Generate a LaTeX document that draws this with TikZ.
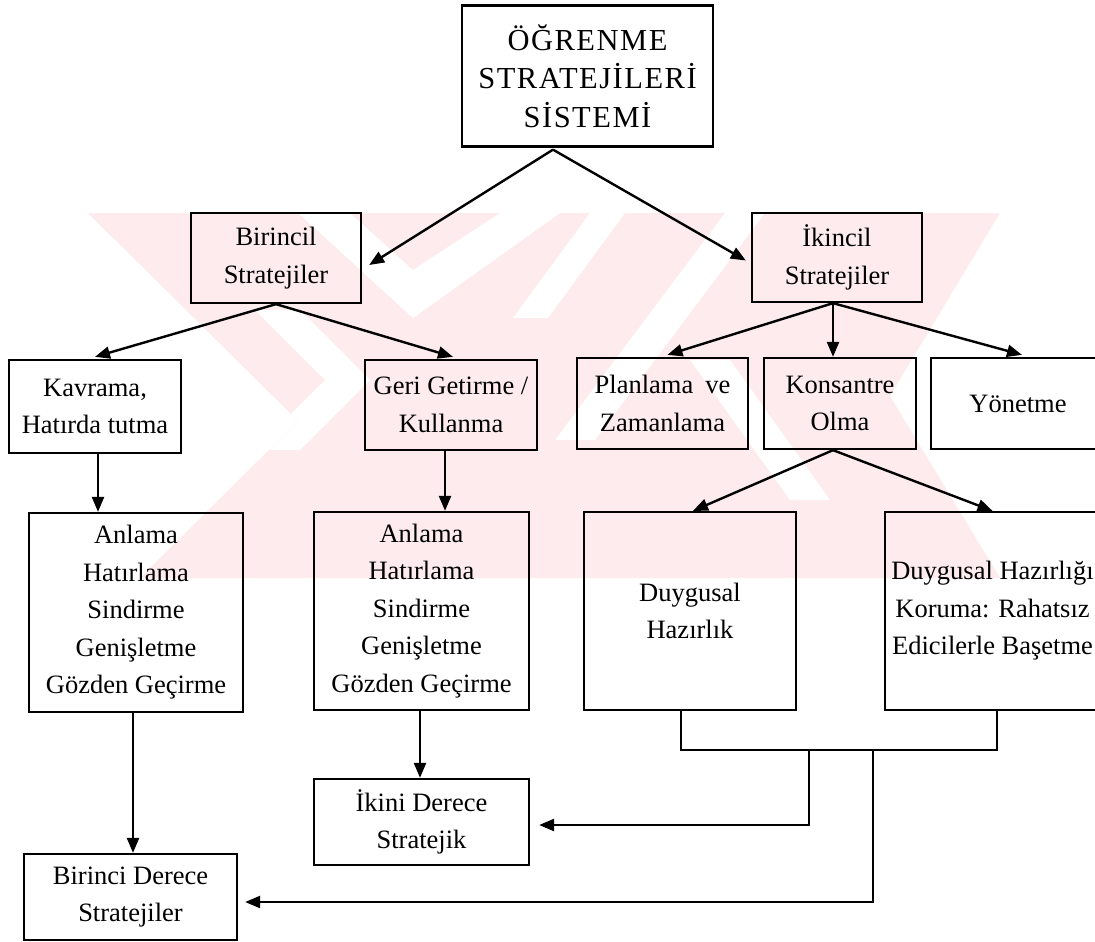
\documentclass[tikz,border=0pt]{standalone}
\usepackage{fontspec}
\setmainfont{Liberation Serif}
\newfontfamily\titlefont[LetterSpace=5]{Liberation Serif}
\usetikzlibrary{arrows.meta,calc}
\definecolor{wmpink}{RGB}{253,235,238}
\tikzset{
  box/.style={draw, line width=2.3pt, inner sep=0pt, align=center,
              font=\fontsize{26.5}{37.5}\selectfont},
  arr/.style={line width=2.4pt, -{Triangle[length=15pt,width=12pt]}},
  link/.style={line width=2pt},
}
\begin{document}
\begin{tikzpicture}[x=1pt,y=-1pt]
\useasboundingbox (0,0) rectangle (1095,942);

% faint background emblem
\begin{scope}
  \clip (88,213) -- (1000,213) -- (890,396) -- (1000,578) -- (140,578) -- (298,421) -- cycle;
  \fill[wmpink] (0,200) rectangle (1095,600);
  \fill[white] (298,213) -- (350,213) -- (413,270) -- (500,213) -- (560,213) -- (413,318) -- cycle;
  \fill[white] (590,213) -- (625,213) -- (548,318) -- (513,318) -- cycle;
  \fill[white] (725,213) -- (765,213) -- (595,440) -- (555,440) -- cycle;
  \fill[white] (255,310) -- (300,310) -- (370,380) -- (300,450) -- (255,450) -- (325,380) -- cycle;
  \fill[white] (690,360) -- (730,360) -- (830,500) -- (790,500) -- cycle;
\end{scope}

% boxes
\node[box, minimum width=251pt, minimum height=141pt,
      font=\titlefont\fontsize{30.5}{38.5}\selectfont] (top) at (587.5,76)
      {ÖĞRENME\\STRATEJİLERİ\\SİSTEMİ};
\node[box, minimum width=170pt, minimum height=90pt] (bir) at (276,258) {Birincil\\Stratejiler};
\node[box, minimum width=170pt, minimum height=89pt] (iki) at (837,257.5) {İkincil\\Stratejiler};
\node[box, minimum width=172pt, minimum height=93pt] (kav) at (95,406.5) {Kavrama,\\Hatırda tutma};
\node[box, minimum width=172pt, minimum height=90pt] (geri) at (451,405) {Geri Getirme /\\Kullanma};
\node[box, minimum width=171pt, minimum height=91pt] (plan) at (662.5,403.5) {Planlama\hspace{0.45em}ve\\Zamanlama};
\node[box, minimum width=152pt, minimum height=91pt] (kon) at (840,403.5) {Konsantre\\Olma};
\node[box, minimum width=174pt, minimum height=91pt] (yon) at (1018,403.5) {Yönetme};
\node[box, minimum width=214pt, minimum height=199pt] (an1) at (136,612.5)
      {Anlama\\Hatırlama\\Sindirme\\Genişletme\\Gözden Geçirme};
\node[box, minimum width=215pt, minimum height=198pt] (an2) at (421.5,611)
      {Anlama\\Hatırlama\\Sindirme\\Genişletme\\Gözden Geçirme};
\node[box, minimum width=212pt, minimum height=198pt] (duy) at (690,611) {Duygusal\\Hazırlık};
\node[box, minimum width=215pt, minimum height=198pt] (duyh) at (992.5,611)
      {Duygusal Hazırlığı\\Koruma: Rahatsız\\Edicilerle Başetme};
\node[box, minimum width=215pt, minimum height=86pt] (ikd) at (421.5,822) {İkini Derece\\Stratejik};
\node[box, minimum width=213pt, minimum height=86pt] (bird) at (130.5,897) {Birinci Derece\\Stratejiler};

% tree connectors
\coordinate (ts) at ($(top.south)+(-34.5,2)$);
\draw[arr] (ts) -- ($(bir.east)+(7,7)$);
\draw[arr] (ts) -- ($(iki.west)+(-5,3)$);

\draw[arr] (bir.south) -- ($(kav.north)+(0,-2)$);
\draw[arr] (bir.south) -- ($(geri.north)+(2,-2)$);

\coordinate (is) at ($(iki.south)+(-4,0)$);
\draw[arr] (is) -- ($(plan.north)+(5,-2)$);
\draw[arr] (is) -- (is |- kon.north);
\draw[arr] (is) -- ($(yon.north)+(4,-2)$);

\coordinate (ks) at ($(kon.south)+(-7,0)$);
\draw[arr] (ks) -- ($(duy.north)+(3,0)$);
\draw[arr] (ks) -- (duyh.north);

\coordinate (kvs) at ($(kav.south)+(3,0)$);
\draw[arr] (kvs) -- (kvs |- an1.north);
\coordinate (gs) at ($(geri.south)+(-6,0)$);
\draw[arr] (gs) -- (gs |- an2.north);

\coordinate (a1s) at ($(an1.south)+(-3,0)$);
\draw[arr] (a1s) -- (a1s |- bird.north);
\coordinate (a2s) at ($(an2.south)+(-1.5,0)$);
\draw[arr] (a2s) -- (a2s |- ikd.north);

% joint bracket under the two affective boxes
\coordinate (jl) at ($(duy.south)+(-9,39)$);
\coordinate (jr) at ($(duyh.south)+(4.5,39)$);
\draw[link] ($(duy.south)+(-9,0)$) -- (jl) -- (jr) -- ($(duyh.south)+(4.5,0)$);

\coordinate (b1) at ($(jl)!0.405!(jr)$);
\coordinate (b2) at ($(jl)!0.608!(jr)$);
\draw[arr] (b1) |- ($(ikd.east)+(9,3)$);
\draw[arr] (b2) |- ($(bird.east)+(7,5)$);
\end{tikzpicture}
\end{document}
